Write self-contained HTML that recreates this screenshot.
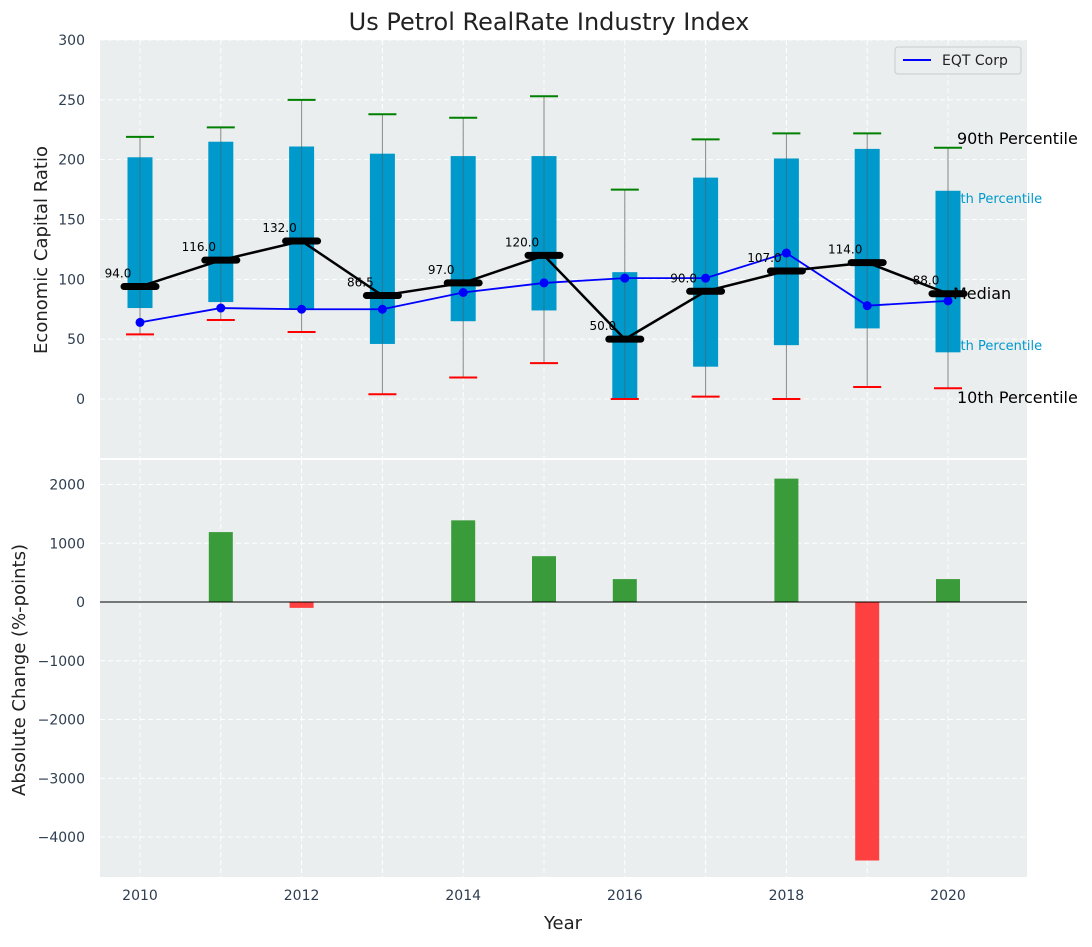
<!DOCTYPE html>
<html><head><meta charset="utf-8"><style>
body{margin:0;background:#fff;font-family:"Liberation Sans","DejaVu Sans",sans-serif}
svg text{font-family:"DejaVu Sans","Liberation Sans",sans-serif}
</style></head><body>
<svg id="c" width="1092" height="942" xmlns="http://www.w3.org/2000/svg"></svg>
<script>
const years=[2010,2011,2012,2013,2014,2015,2016,2017,2018,2019,2020];
const p25=[76,81,75,46,65,74,0,27,45,59,39];
const p75=[202,215,211,205,203,203,106,185,201,209,174];
const p10=[54,66,56,4,18,30,0,2,0,10,9];
const p90=[219,227,250,238,235,253,175,217,222,222,210];
const median=[94,116,132,86.5,97,120,50,90,107,114,88];
const eqt=[64,76,75,75,89,97,101,101,122,78,82];
const change=[0,1190,-100,0,1390,780,390,0,2100,-4400,390];
const topTicks=[0,50,100,150,200,250,300];
const botTicks=[-4000,-3000,-2000,-1000,0,1000,2000];
const xTicks=[2010,2012,2014,2016,2018,2020];
const NS="http://www.w3.org/2000/svg";const svg=document.getElementById('c');
function el(t,a,txt){const e=document.createElementNS(NS,t);for(const k in a)e.setAttribute(k,a[k]);if(txt!=null)e.textContent=txt;svg.appendChild(e);return e;}
const L=100,R=1027;
const x=v=>140+(v-2010)*80.8;
const yT=v=>399-v*(359/300);
const yB=v=>602-v*0.05875;
let e;
e=el('rect',{x:L,y:40,width:R-L,height:418,fill:'#eaeeee'});

e=el('rect',{x:L,y:460,width:R-L,height:417,fill:'#eaeeee'});

topTicks.forEach(t=>{el('line',{x1:L,x2:R,y1:yT(t),y2:yT(t),stroke:'#fff','stroke-dasharray':'5,3'});
 e=el('text',{x:85,y:yT(t)+5,'text-anchor':'end','font-size':14,fill:'#2e3e50'},t);
 });
botTicks.forEach(t=>{el('line',{x1:L,x2:R,y1:yB(t),y2:yB(t),stroke:'#fff','stroke-dasharray':'5,3'});
 e=el('text',{x:85,y:yB(t)+5,'text-anchor':'end','font-size':14,fill:'#2e3e50'},t<0?'\u2212'+(-t):t);
 });
years.forEach(yr=>{el('line',{x1:x(yr),x2:x(yr),y1:40,y2:458,stroke:'#fff','stroke-dasharray':'5,3'});el('line',{x1:x(yr),x2:x(yr),y1:460,y2:877,stroke:'#fff','stroke-dasharray':'5,3'});});
xTicks.forEach(t=>{e=el('text',{x:x(t),y:900,'text-anchor':'middle','font-size':14,fill:'#2e3e50'},t);
 });
const lx=957;
[['90th Percentile',144,16,'#000',lx],['75th Percentile',203,13,'#0099cc',944],['25th Percentile',350,13,'#0099cc',944],['10th Percentile',403,16,'#000',lx]].forEach(a=>{
 e=el('text',{x:a[4],y:a[1],'font-size':a[2],fill:a[3]},a[0]);
 });
years.forEach((yr,i)=>{const cx=x(yr);
 e=el('line',{x1:cx,x2:cx,y1:yT(p10[i]),y2:yT(p90[i]),stroke:'#888','stroke-width':1});
 
 e=el('rect',{x:cx-12.5,y:yT(p75[i]),width:25,height:yT(p25[i])-yT(p75[i]),fill:'#0099cc'});
 
 el('line',{x1:cx,x2:cx,y1:yT(p75[i]),y2:yT(p25[i]),stroke:'#555','stroke-opacity':0.5,'stroke-width':1});
 e=el('line',{x1:cx-14,x2:cx+14,y1:yT(p90[i]),y2:yT(p90[i]),stroke:'green','stroke-width':2});
 
 e=el('line',{x1:cx-14,x2:cx+14,y1:yT(p10[i]),y2:yT(p10[i]),stroke:'red','stroke-width':2});
 
});
e=el('polyline',{points:years.map((y,i)=>x(y)+','+yT(eqt[i])).join(' '),fill:'none',stroke:'blue','stroke-width':1.8});

years.forEach((y,i)=>{e=el('circle',{cx:x(y),cy:yT(eqt[i]),r:4.5,fill:'blue'});
 });
e=el('polyline',{points:years.map((y,i)=>x(y)+','+yT(median[i])).join(' '),fill:'none',stroke:'#000','stroke-width':2.5});

years.forEach((y,i)=>{e=el('line',{x1:x(y)-16,x2:x(y)+16,y1:yT(median[i]),y2:yT(median[i]),stroke:'#000','stroke-width':7,'stroke-linecap':'round'});
 
 e=el('text',{x:x(y)-22,y:yT(median[i])-9,'text-anchor':'middle','font-size':12,fill:'#000'},median[i].toFixed(1));
 });
e=el('text',{x:953,y:299,'font-size':16,fill:'#000'},'Median');

e=el('rect',{x:895,y:47,width:126,height:27,rx:3,fill:'#eaeeee',stroke:'#ccc'});

el('line',{x1:903,x2:931,y1:60,y2:60,stroke:'blue','stroke-width':2});
e=el('text',{x:942,y:65,'font-size':14,fill:'#222'},'EQT Corp');

years.forEach((y,i)=>{const v=change[i];if(v===0)return;
 e=el('rect',{x:x(y)-12,y:Math.min(yB(v),yB(0)),width:24,height:Math.abs(yB(v)-yB(0)),fill:v>0?'#3a9b3a':'#ff4040'});
 });
el('line',{x1:L,x2:R,y1:yB(0),y2:yB(0),stroke:'#000','stroke-width':1});
e=el('text',{x:549,y:30,'text-anchor':'middle','font-size':24,fill:'#222'},'Us Petrol RealRate Industry Index');

e=el('text',{x:47,y:250,'text-anchor':'middle','font-size':18,fill:'#222',transform:'rotate(-90 47 250)'},'Economic Capital Ratio');

e=el('text',{x:25,y:670,'text-anchor':'middle','font-size':18,fill:'#222',transform:'rotate(-90 25 670)'},'Absolute Change (%-points)');

e=el('text',{x:563,y:929,'text-anchor':'middle','font-size':18,fill:'#222'},'Year');

</script>
</body></html>
